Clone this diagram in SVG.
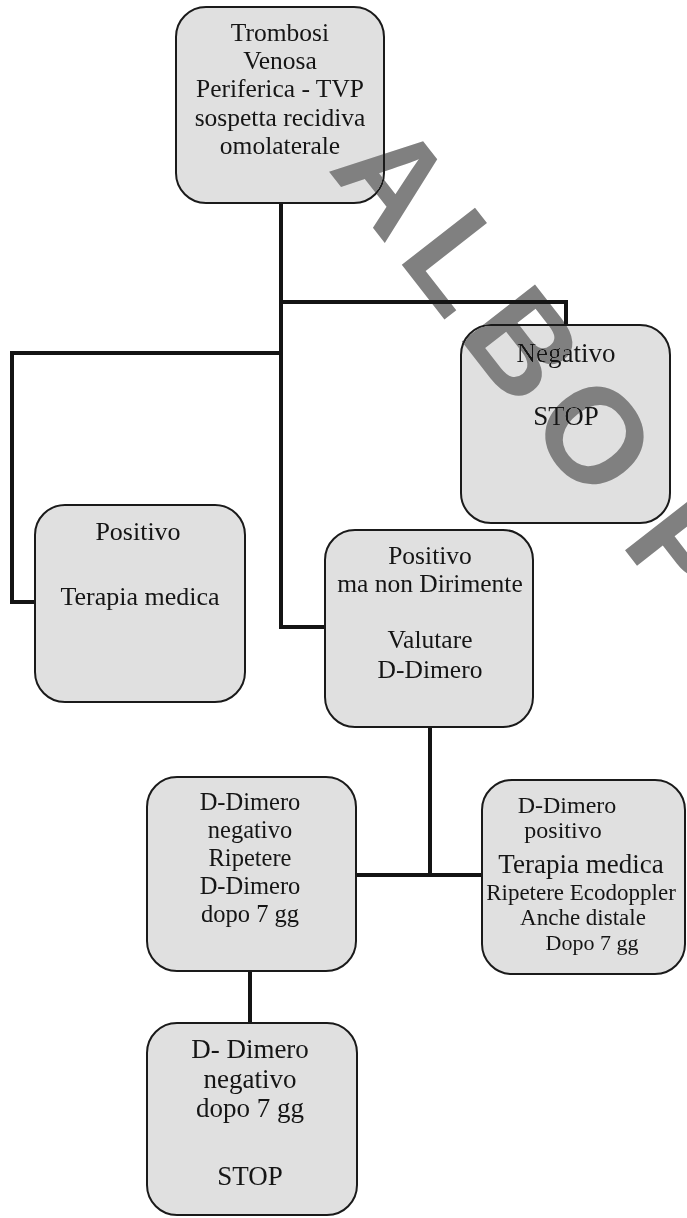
<svg xmlns="http://www.w3.org/2000/svg" width="687" height="1218" viewBox="0 0 687 1218">
<style>
.box{fill:#e0e0e0;stroke:#1a1a1a;stroke-width:2}
.t{font-family:"Liberation Serif","Times New Roman",serif;fill:#151515;text-anchor:middle}
.c{fill:none;stroke:#141414;stroke-width:4;stroke-linejoin:miter;stroke-linecap:square}
.wm{font-family:"Liberation Sans",Arial,sans-serif;font-weight:bold;fill:#808080;letter-spacing:15px;mix-blend-mode:darken}
</style>
<rect width="687" height="1218" fill="#ffffff"/>
<g id="connectors">
<path class="c" d="M281 203 V627 H325"/>
<path class="c" d="M281 302 H566 V325"/>
<path class="c" d="M281 353 H12 V602 H35"/>
<path class="c" d="M430 727 V875"/>
<path class="c" d="M356 875 H482"/>
<path class="c" d="M250 971 V1023"/>
</g>
<g id="n_tvp">
<rect class="box" x="176" y="7" width="208" height="196" rx="30"/>
<text class="t" font-size="25.5" x="280" y="41">Trombosi</text>
<text class="t" font-size="25.5" x="280" y="69">Venosa</text>
<text class="t" font-size="25.5" x="280" y="97">Periferica - TVP</text>
<text class="t" font-size="25.5" x="280" y="126">sospetta recidiva</text>
<text class="t" font-size="25.5" x="280" y="154">omolaterale</text>
</g>
<g id="n_negativo">
<rect class="box" x="461" y="325" width="209" height="198" rx="30"/>
<text class="t" font-size="27" x="566" y="362">Negativo</text>
<text class="t" font-size="27" x="566" y="425">STOP</text>
</g>
<g id="n_positivo">
<rect class="box" x="35" y="505" width="210" height="197" rx="30"/>
<text class="t" font-size="26" x="138" y="540">Positivo</text>
<text class="t" font-size="26" x="140" y="605">Terapia medica</text>
</g>
<g id="n_nondirimente">
<rect class="box" x="325" y="530" width="208" height="197" rx="30"/>
<text class="t" font-size="25.5" x="430" y="564">Positivo</text>
<text class="t" font-size="25.5" x="430" y="592">ma non Dirimente</text>
<text class="t" font-size="25.5" x="430" y="648">Valutare</text>
<text class="t" font-size="25.5" x="430" y="678">D-Dimero</text>
</g>
<g id="n_ddneg">
<rect class="box" x="147" y="777" width="209" height="194" rx="30"/>
<text class="t" font-size="24.5" x="250" y="810">D-Dimero</text>
<text class="t" font-size="24.5" x="250" y="838">negativo</text>
<text class="t" font-size="24.5" x="250" y="866">Ripetere</text>
<text class="t" font-size="24.5" x="250" y="894">D-Dimero</text>
<text class="t" font-size="24.5" x="250" y="922">dopo 7 gg</text>
</g>
<g id="n_ddpos">
<rect class="box" x="482" y="780" width="203" height="194" rx="30"/>
<text class="t" font-size="24" x="567" y="813">D-Dimero</text>
<text class="t" font-size="24" x="563" y="838">positivo</text>
<text class="t" font-size="27" x="581" y="873">Terapia medica</text>
<text class="t" font-size="23" x="581" y="900">Ripetere Ecodoppler</text>
<text class="t" font-size="23" x="583" y="925">Anche distale</text>
<text class="t" font-size="22" x="592" y="950">Dopo 7 gg</text>
</g>
<g id="n_stop">
<rect class="box" x="147" y="1023" width="210" height="192" rx="30"/>
<text class="t" font-size="27" x="250" y="1058">D- Dimero</text>
<text class="t" font-size="27" x="250" y="1088">negativo</text>
<text class="t" font-size="27" x="250" y="1117">dopo 7 gg</text>
<text class="t" font-size="27" x="250" y="1185">STOP</text>
</g>
<g id="watermark">
<text class="wm" font-size="135" transform="translate(327 169) rotate(52)">ALBO <tspan dx="-20">P</tspan></text>
</g>
</svg>
